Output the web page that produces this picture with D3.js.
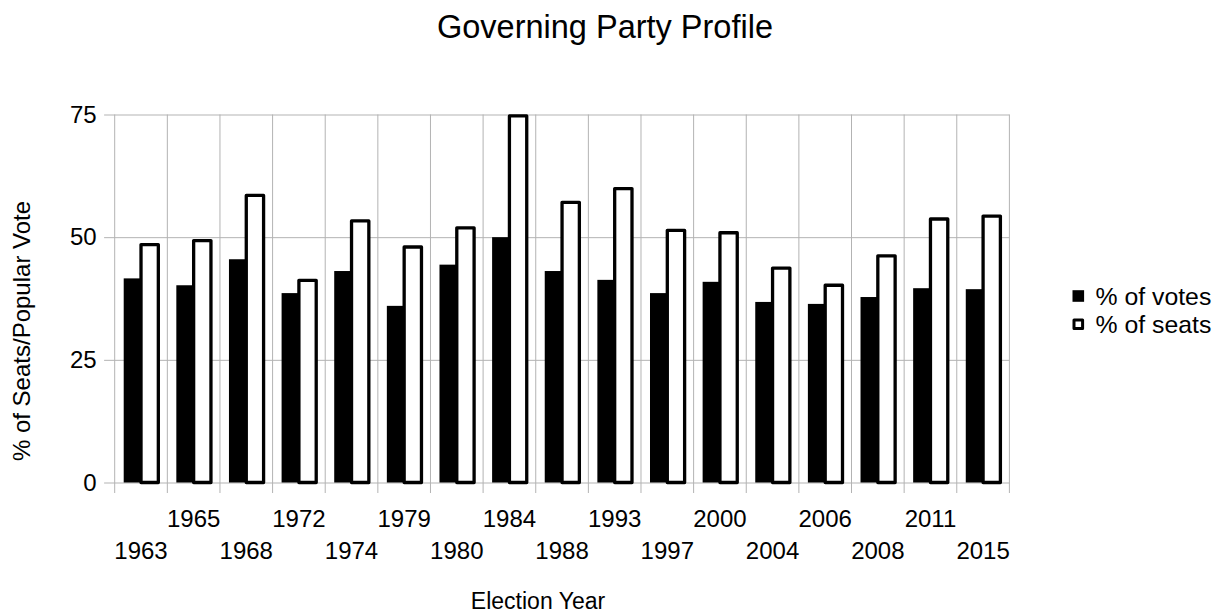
<!DOCTYPE html>
<html>
<head>
<meta charset="utf-8">
<script src="https://cdn.jsdelivr.net/npm/d3@7"></script>
<style>
  html, body { margin: 0; padding: 0; background: #fff; }
  svg { display: block; font-family: "Liberation Sans", Arial, sans-serif; }
</style>
</head>
<body>
<svg id="chart" width="1226" height="614"></svg>
<script>
// Election years and the governing party's share of the vote and of the seats (%)
const years = ["1963","1965","1968","1972","1974","1979","1980","1984","1988","1993","1997","2000","2004","2006","2008","2011","2015"];
const votes = [41.6, 40.2, 45.5, 38.6, 43.1, 36.0, 44.4, 50.0, 43.1, 41.3, 38.6, 40.9, 36.8, 36.4, 37.8, 39.6, 39.4];
const seats = [48.5, 49.3, 58.5, 41.2, 53.3, 48.0, 51.9, 74.7, 57.1, 59.9, 51.4, 50.9, 43.7, 40.2, 46.2, 53.7, 54.3];
const seriesNames = ["% of votes", "% of seats"];
const yTicks = [0, 25, 50, 75];

const svg = d3.select("#chart");
const plotLeft = 114.7, plotRight = 1009.4, plotTop = 114.5, plotBottom = 482.5;
const gridColor = "#b3b3b3";

const x = d3.scaleBand().domain(years).range([plotLeft, plotRight]).padding(0);
const x1 = d3.scaleBand().domain(seriesNames).range([0, x.bandwidth()])
  .paddingInner(0).paddingOuter(0.52);
const y = d3.scaleLinear().domain([0, 75]).range([plotBottom, plotTop]);

// Title
svg.append("text")
  .attr("x", 605).attr("y", 37.5)
  .attr("text-anchor", "middle")
  .attr("font-size", 32.5)
  .attr("fill", "#000")
  .text("Governing Party Profile");

// Horizontal grid lines plus left tick marks and labels
const yAxis = svg.append("g")
  .attr("transform", `translate(${plotRight},0)`)
  .call(d3.axisLeft(y).tickValues(yTicks).tickSize(plotRight - plotLeft + 10.6).tickPadding(7.5));
yAxis.select(".domain").remove();
yAxis.selectAll(".tick line").attr("stroke", gridColor).attr("stroke-width", 1);
yAxis.selectAll(".tick text")
  .attr("font-size", 24)
  .attr("font-family", "Liberation Sans, Arial, sans-serif")
  .attr("fill", "#000");

// Vertical grid lines at category boundaries, extending below the axis as ticks
const boundaries = years.map(d => x(d)).concat([x(years[years.length - 1]) + x.step()]);
svg.append("g").selectAll("line")
  .data(boundaries)
  .join("line")
  .attr("x1", d => d).attr("x2", d => d)
  .attr("y1", plotTop).attr("y2", plotBottom + 10.5)
  .attr("stroke", gridColor).attr("stroke-width", 1);

// Bars
const rows = years.map((yr, i) => ({ year: yr, votes: votes[i], seats: seats[i] }));
const groups = svg.append("g").selectAll("g")
  .data(rows)
  .join("g")
  .attr("transform", d => `translate(${x(d.year)},0)`);

groups.append("rect")
  .attr("x", x1("% of votes"))
  .attr("width", x1.bandwidth())
  .attr("y", d => y(d.votes))
  .attr("height", d => y(0) - y(d.votes))
  .attr("fill", "#000");

groups.append("rect")
  .attr("x", x1("% of seats"))
  .attr("width", x1.bandwidth())
  .attr("y", d => y(d.seats))
  .attr("height", d => y(0) - y(d.seats))
  .attr("fill", "#fff")
  .attr("stroke", "#000")
  .attr("stroke-width", 3.3)
  .attr("stroke-linejoin", "round");

// Staggered category labels
svg.append("g").selectAll("text")
  .data(years)
  .join("text")
  .attr("x", d => x(d) + x.bandwidth() / 2)
  .attr("y", (d, i) => i % 2 === 0 ? 559.3 : 527.3)
  .attr("text-anchor", "middle")
  .attr("font-size", 24)
  .attr("fill", "#000")
  .text(d => d);

// Axis titles
svg.append("text")
  .attr("x", 538).attr("y", 608.5)
  .attr("text-anchor", "middle")
  .attr("font-size", 23)
  .attr("fill", "#000")
  .text("Election Year");

svg.append("text")
  .attr("transform", "translate(30,331) rotate(-90)")
  .attr("text-anchor", "middle")
  .attr("font-size", 24)
  .attr("fill", "#000")
  .text("% of Seats/Popular Vote");

// Legend
const legend = svg.append("g");
const legendRows = [
  { name: seriesNames[0], cy: 296, fill: "#000", stroke: "none", sw: 0 },
  { name: seriesNames[1], cy: 324.3, fill: "#fff", stroke: "#000", sw: 3 }
];
legend.selectAll("rect")
  .data(legendRows)
  .join("rect")
  .attr("x", d => 1072.5 + d.sw / 2)
  .attr("y", d => d.cy - 5.8 + d.sw / 2)
  .attr("width", d => 11.6 - d.sw)
  .attr("height", d => 11.6 - d.sw)
  .attr("fill", d => d.fill)
  .attr("stroke", d => d.stroke)
  .attr("stroke-width", d => d.sw)
  .attr("stroke-linejoin", "round");
legend.selectAll("text")
  .data(legendRows)
  .join("text")
  .attr("x", 1095.5)
  .attr("y", d => d.cy + 8.8)
  .attr("font-size", 24.8)
  .attr("fill", "#000")
  .text(d => d.name);
</script>
</body>
</html>
